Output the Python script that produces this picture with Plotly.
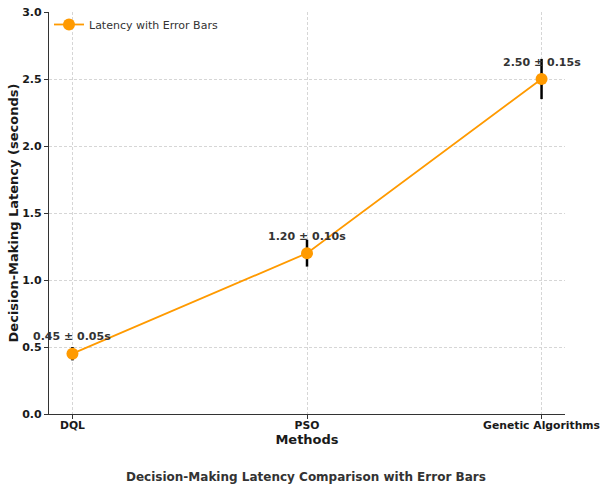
import plotly.graph_objects as go

methods = ["DQL", "PSO", "Genetic Algorithms"]
latency = [0.45, 1.20, 2.50]
errors = [0.05, 0.10, 0.15]
y_ticks = [0.0, 0.5, 1.0, 1.5, 2.0, 2.5, 3.0]

orange = "#ff9a00"
font = "DejaVu Sans"

fig = go.Figure()
fig.add_trace(go.Scatter(
    x=methods, y=latency, mode="lines+markers",
    name="Latency with Error Bars",
    line=dict(color=orange, width=1.8),
    marker=dict(color=orange, size=12),
    error_y=dict(type="data", array=errors, visible=True, color="black",
                 thickness=2.5, width=0),
))

for m, v, e in zip(methods, latency, errors):
    fig.add_annotation(x=m, y=v, text=f"<b>{v:.2f} ± {e:.2f}s</b>", showarrow=False,
                       yshift=17, font=dict(family=font, size=11, color="#333333"))

fig.add_annotation(xref="paper", yref="paper", x=0.5, y=-0.157, yanchor="middle",
                   text="<b>Decision-Making Latency Comparison with Error Bars</b>",
                   showarrow=False, xshift=-1,
                   font=dict(family=font, size=12, color="#333333"))

fig.update_layout(
    width=600, height=487,
    margin=dict(l=49, r=35, t=12, b=73, autoexpand=False),
    plot_bgcolor="white", paper_bgcolor="white",
    font=dict(family=font, color="#1a1a1a"),
    showlegend=True,
    legend=dict(x=0.0, y=1.005, xanchor="left", yanchor="top",
                bgcolor="rgba(0,0,0,0)", font=dict(size=11, color="#333333")),
    xaxis=dict(
        type="category", range=[-0.1, 2.1], automargin=False,
        showline=True, linecolor="#333333", linewidth=1.2,
        ticks="outside", ticklen=4, tickcolor="#333333",
        ticklabelstandoff=-3, ticklabeloverflow="allow",
        showgrid=True, gridcolor="#d6d6d6", griddash="3px,2px", gridwidth=0.8,
        tickfont=dict(family=font, size=10.8, color="#1a1a1a", weight="bold"),
        title=dict(text="<b>Methods</b>", font=dict(size=13, color="#1a1a1a"), standoff=2),
        zeroline=False, mirror=False,
    ),
    yaxis=dict(
        range=[0, 3.0], tickvals=y_ticks, tickformat=".1f", automargin=False,
        showline=True, linecolor="#333333", linewidth=1.2,
        ticks="outside", ticklen=4, tickcolor="#333333",
        ticklabeloverflow="allow",
        showgrid=True, gridcolor="#d6d6d6", griddash="3px,2px", gridwidth=0.8,
        tickfont=dict(family=font, size=11, color="#1a1a1a", weight="bold"),
        title=dict(text="<b>Decision-Making Latency (seconds)</b>", font=dict(size=13, color="#1a1a1a"), standoff=0),
        zeroline=False,
    ),
)

# remove the default page margin so the 600x487 figure fills the window exactly
fig.write_html("out.html", config={"displayModeBar": False},
               post_script="document.body.style.margin='0';document.body.style.overflow='hidden';")
